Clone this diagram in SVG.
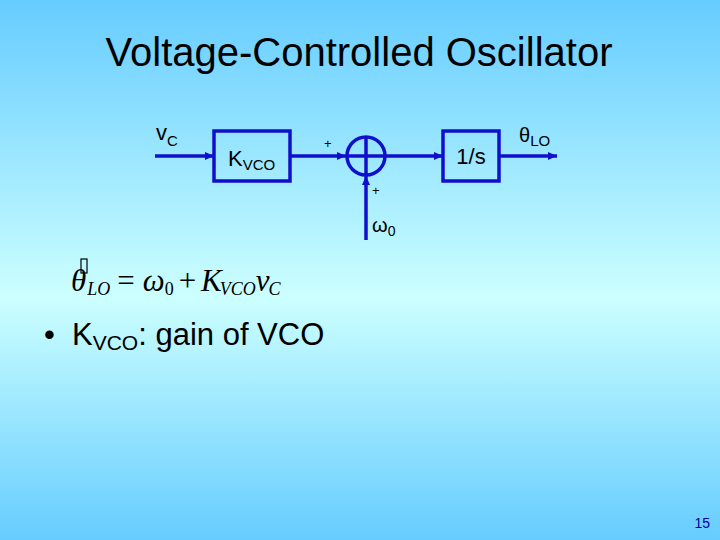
<svg xmlns="http://www.w3.org/2000/svg" width="720" height="540" viewBox="0 0 720 540">
<defs>
<linearGradient id="bg" x1="0" y1="0" x2="0" y2="1">
<stop offset="0" stop-color="#66CCFF"/>
<stop offset="0.55" stop-color="#CCFFFF"/>
<stop offset="1" stop-color="#66CCFF"/>
</linearGradient>
<marker id="arr" markerWidth="9" markerHeight="8" refX="9" refY="4" orient="auto" markerUnits="userSpaceOnUse">
<path d="M0,0 L9,4 L0,8 Z" fill="#1010CC"/>
</marker>
<style>
.ln{stroke:#1010CC;stroke-width:3.5;fill:none}
.bx{stroke:#1010CC;stroke-width:3.5;fill:none}
.s{font-family:"Liberation Sans",Arial,sans-serif;fill:#000}
.m{font-family:"Liberation Serif","Times New Roman",serif;font-style:italic;fill:#000}
</style>
</defs>
<rect width="720" height="540" fill="url(#bg)"/>
<text class="s" x="359" y="66" font-size="40" text-anchor="middle">Voltage-Controlled Oscillator</text>

<g id="connectors">
<line class="ln" x1="155" y1="156" x2="214" y2="156" marker-end="url(#arr)"/>
<line class="ln" x1="290" y1="156" x2="346" y2="156" marker-end="url(#arr)"/>
<line class="ln" x1="386" y1="156" x2="443" y2="156" marker-end="url(#arr)"/>
<line class="ln" x1="499" y1="156" x2="557" y2="156" marker-end="url(#arr)"/>
<line class="ln" x1="366" y1="240" x2="366" y2="176" marker-end="url(#arr)"/>
</g>

<g id="vc-label"><text class="s" x="156" y="140" font-size="22">v<tspan font-size="15" dy="6">C</tspan></text></g>

<g id="kvco">
<rect class="bx" x="214" y="131" width="76" height="50"/>
<text class="s" x="228" y="166" font-size="22">K<tspan font-size="15" dy="4">VCO</tspan></text>
</g>

<g id="sum">
<circle class="bx" cx="366" cy="156" r="19"/>
<line class="ln" x1="347" y1="156" x2="385" y2="156"/>
<line class="ln" x1="366" y1="137" x2="366" y2="175"/>
<text class="s" x="324" y="148" font-size="13">+</text>
<text class="s" x="372" y="195" font-size="13">+</text>
</g>

<g id="w0-label"><text class="s" x="372" y="232" font-size="20">ω<tspan font-size="14" dy="4">0</tspan></text></g>

<g id="integrator">
<rect class="bx" x="443" y="131" width="56" height="50"/>
<text class="s" x="471" y="164" font-size="22" text-anchor="middle">1/s</text>
</g>

<g id="theta-label"><text class="s" x="519" y="142" font-size="20">θ<tspan font-size="15" dy="4">LO</tspan></text></g>

<g id="equation">
<text class="m" x="71" y="291" font-size="31">θ<tspan font-size="18" dy="4" dx="1">LO</tspan><tspan font-style="normal" dy="-4" dx="7">=</tspan><tspan dx="8">ω</tspan><tspan font-style="normal" font-size="18" dy="4">0</tspan><tspan font-style="normal" dy="-4" dx="5">+</tspan><tspan dx="5">K</tspan><tspan font-size="18" dy="4" dx="-2">VCO</tspan><tspan dy="-4">v</tspan><tspan font-size="18" dy="4" dx="-1">C</tspan></text>
<rect x="81" y="259" width="6" height="14" fill="none" stroke="#000" stroke-width="1.2"/>
</g>

<text class="s" x="44" y="345" font-size="31">•</text>
<text class="s" x="72" y="345" font-size="31">K<tspan font-size="21" dy="5">VCO</tspan><tspan dy="-5">: gain of VCO</tspan></text>

<text class="s" x="710" y="528" font-size="14" text-anchor="end" style="fill:#000099">15</text>
</svg>
